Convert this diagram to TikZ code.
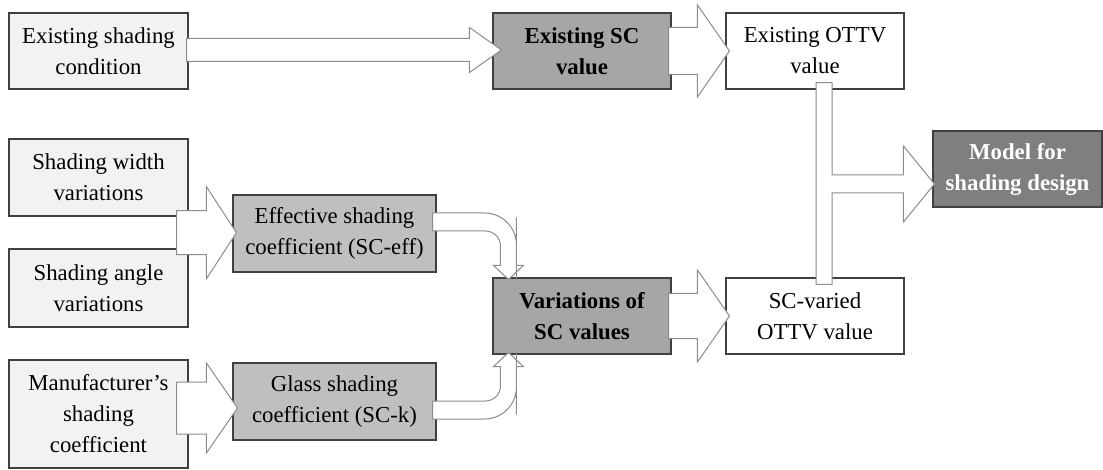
\documentclass[tikz,border=0pt]{standalone}
\usepackage{fontspec}
\setmainfont{LiberationSerif}[Extension=.ttf, UprightFont=*-Regular, BoldFont=*-Bold, ItalicFont=*-Italic, BoldItalicFont=*-BoldItalic]
\usetikzlibrary{calc}
\definecolor{fillA}{HTML}{F2F2F2}
\definecolor{fillB}{HTML}{BFBFBF}
\definecolor{fillC}{HTML}{A6A6A6}
\definecolor{fillD}{HTML}{7F7F7F}
\definecolor{edgeC}{HTML}{404040}
\definecolor{arrC}{HTML}{8C8C8C}
\tikzset{
  box/.style={draw=edgeC, line width=1.1pt, rectangle, inner sep=0pt, align=center,
    minimum width=178pt, minimum height=76pt, font=\rmfamily\fontsize{22.8}{31}\selectfont},
  inbox/.style={box, fill=fillA, minimum width=179pt},
  scbox/.style={box, fill=fillB, minimum width=203pt, minimum height=77pt},
  keybox/.style={box, fill=fillC, font=\rmfamily\fontsize{22.8}{31}\selectfont\bfseries},
  outbox/.style={box, fill=white},
  modelbox/.style={box, fill=fillD, text=white, minimum width=169pt, font=\rmfamily\fontsize{22.8}{31}\selectfont\bfseries},
  barrow/.style={draw=arrC, fill=white, line width=1pt, line join=miter},
}
% horizontal block arrow: start, tip, shaft half, head half, head length
\newcommand{\hbarrow}[5]{%
  \draw[barrow] let \p1=(#1), \p2=(#2) in
    (\x1,\y1+#3pt) -- (\x2-#5pt,\y1+#3pt) -- (\x2-#5pt,\y1+#4pt) -- (\x2,\y1)
    -- (\x2-#5pt,\y1-#4pt) -- (\x2-#5pt,\y1-#3pt) -- (\x1,\y1-#3pt) -- cycle;}
% curved block arrow: start (shaft centre), tip, sign (1 = tip below, -1 = tip above)
\newcommand{\cbarrow}[3]{%
  \draw[barrow] let \p1=(#1), \p2=(#2) in
    ({\x1},{\y1+(#3)*9pt}) [rounded corners=32pt] -- ({\x2+8pt},{\y1+(#3)*9pt})
    -- ({\x2+8pt},{\y2+(#3)*30pt}) [sharp corners] -- ({\x2+8pt},{\y2+(#3)*14pt})
    -- ({\x2+15pt},{\y2+(#3)*14pt}) -- (\x2,\y2) -- ({\x2-15pt},{\y2+(#3)*14pt})
    -- ({\x2-8pt},{\y2+(#3)*14pt}) -- ({\x2-8pt},{\y2+(#3)*30pt}) [rounded corners=15pt]
    -- ({\x2-8pt},{\y1-(#3)*9pt}) -- ({\x1+28pt},{\y1-(#3)*9pt}) [sharp corners]
    -- ({\x1},{\y1-(#3)*9pt}) -- cycle;}
\begin{document}
\begin{tikzpicture}[x=1pt,y=-1pt]
\useasboundingbox (0,0) rectangle (1103,470);
% nodes
\node[inbox]    (b1)  at (98.5,51)   {Existing shading\\condition};
\node[keybox]   (b2)  at (582,51)    {Existing SC\\value};
\node[outbox]   (b3)  at (815,51)    {Existing OTTV\\value};
\node[inbox, minimum height=77pt] (b4) at (98.5,177.5) {Shading width\\variations};
\node[inbox, minimum height=78pt] (b5) at (98.5,288)   {Shading angle\\variations};
\node[inbox, minimum height=108pt] (b6) at (98.5,414)  {Manufacturer’s\\shading\\coefficient};
\node[scbox]    (b7)  at (334.5,233.5) {Effective shading\\coefficient (SC-eff)};
\node[scbox]    (b8)  at (334.5,401.5) {Glass shading\\coefficient (SC-k)};
\node[keybox]   (b9)  at (582,316)   {Variations of\\SC values};
\node[outbox]   (b10) at (815,316)   {SC-varied\\OTTV value};
\node[modelbox] (b11) at (1017.5,169) {Model for\\shading design};
% straight block arrows
\hbarrow{$(b1.east)+(-2,-1)$}{$(b2.west)+(9,-1)$}{11.5}{22.5}{32}
\hbarrow{$(b2.east)+(-3,0)$}{$(b3.west)+(4,0)$}{23.5}{46}{32}
\hbarrow{$(b9.east)+(-3,0)$}{$(b10.west)+(4,0)$}{22.5}{46}{32}
\hbarrow{$(b4.east)!0.5!(b5.east)+(-12,0)$}{$(b7.west)+(4,0)$}{22}{46}{30}
\hbarrow{$(b6.east)+(-12,-6)$}{$(b8.west)+(5,-6)$}{26}{45}{31}
% curved block arrows into Variations of SC values
\cbarrow{$(b7.east)+(-4,-11.5)$}{$(b9.north west)+(16,2)$}{1}
\cbarrow{$(b8.east)+(-4,8.5)$}{$(b9.south west)+(16,-2)$}{-1}
% joint connector from the two OTTV values to the model
\draw[barrow] let \p1=($(b3.south)+(9,-7)$), \p2=($(b10.north)+(9,7)$),
    \p3=($(b11.west)+(2,15)$) in
  (\x1-8pt,\y1) -- (\x1+8pt,\y1) -- (\x1+8pt,\y3+9pt) -- (\x3-31pt,\y3+9pt)
  -- (\x3-31pt,\y3+38pt) -- (\x3,\y3) -- (\x3-31pt,\y3-38pt) -- (\x3-31pt,\y3-9pt)
  -- (\x1+8pt,\y3-9pt) -- (\x1+8pt,\y2) -- (\x1-8pt,\y2) -- cycle;
\end{tikzpicture}
\end{document}
